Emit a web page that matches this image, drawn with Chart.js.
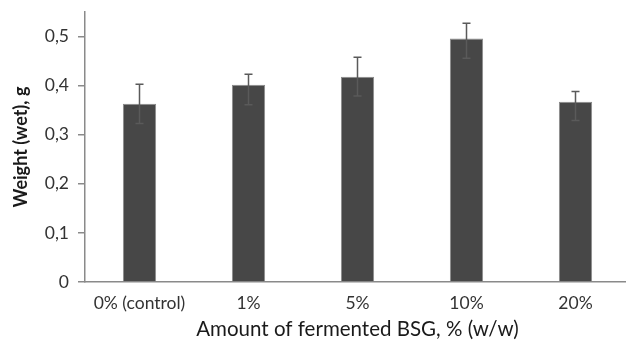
<!DOCTYPE html>
<html>
<head>
<meta charset="utf-8">
<script src="https://cdn.jsdelivr.net/npm/chart.js@4"></script>
<style>
html,body{margin:0;padding:0;background:#fff;overflow:hidden;}
#wrap{width:630px;height:342px;position:relative;}
</style>
</head>
<body>
<div id="wrap"><canvas id="c" width="630" height="342"></canvas></div>
<script>
const categories = ['0% (control)', '1%', '5%', '10%', '20%'];
const weights = [0.363, 0.402, 0.418, 0.496, 0.367];
const errPlus = [0.040, 0.021, 0.040, 0.031, 0.021];
const errMinus = [0.040, 0.041, 0.039, 0.040, 0.038];
const yTicks = [0, 0.1, 0.2, 0.3, 0.4, 0.5];

const FONT = "Lato, 'Open Sans', sans-serif";
const TXT = '#333333';

const errorBars = {
  id: 'errorBars',
  afterDatasetsDraw(chart) {
    const ctx = chart.ctx;
    const meta = chart.getDatasetMeta(0);
    const y = chart.scales.y;
    ctx.save();
    ctx.strokeStyle = '#5a5a5a';
    ctx.lineWidth = 1.5;
    meta.data.forEach((bar, i) => {
      const x = bar.x;
      const yTop = y.getPixelForValue(weights[i] + errPlus[i]);
      const yBot = y.getPixelForValue(weights[i] - errMinus[i]);
      ctx.beginPath();
      ctx.moveTo(x, yTop); ctx.lineTo(x, yBot);
      ctx.moveTo(x - 4, yTop); ctx.lineTo(x + 4, yTop);
      ctx.moveTo(x - 4, yBot); ctx.lineTo(x + 4, yBot);
      ctx.stroke();
    });
    ctx.restore();
  }
};

new Chart(document.getElementById('c'), {
  type: 'bar',
  data: {
    labels: categories,
    datasets: [{
      data: weights,
      backgroundColor: '#474747',
      borderColor: '#8c8c8c',
      borderWidth: 1,
      barPercentage: 0.305,
      categoryPercentage: 1
    }]
  },
  options: {
    responsive: false,
    animation: false,
    devicePixelRatio: 1,
    layout: { padding: { top: 12, right: 0, left: 0, bottom: 0 } },
    plugins: { legend: { display: false }, tooltip: { enabled: false } },
    scales: {
      x: {
        grid: { display: false, drawTicks: false },
        border: { display: true, color: '#8a8a8a', width: 1.5 },
        ticks: { color: TXT, font: { family: FONT, size: 17.5 }, padding: 11, maxRotation: 0 },
        title: { display: true, text: 'Amount of fermented BSG, % (w/w)', color: '#1a1a1a', font: { family: FONT, size: 20.5 }, padding: { top: 0, bottom: 0 } },
        afterFit: (s) => { s.height = 60; s.paddingLeft = 0; s.paddingRight = 0; }
      },
      y: {
        min: 0,
        max: 0.55,
        grid: { drawOnChartArea: false, drawTicks: true, tickLength: 7, color: '#8a8a8a', lineWidth: 1.5 },
        border: { display: true, color: '#8a8a8a', width: 1.5 },
        afterBuildTicks: (s) => { s.ticks = yTicks.map(v => ({ value: v })); },
        ticks: {
          color: TXT, font: { family: FONT, size: 17.5 }, padding: 9,
          callback: (v) => v === 0 ? '0' : v.toFixed(1).replace('.', ',')
        },
        title: { display: true, text: 'Weight (wet), g', color: '#1a1a1a', font: { family: FONT, size: 18, weight: 'bold' }, padding: { top: 10, bottom: 4 } },
        afterFit: (s) => { s.width = 85; s.paddingTop = 0; s.paddingBottom = 0; }
      }
    }
  },
  plugins: [errorBars]
});
</script>
</body>
</html>
